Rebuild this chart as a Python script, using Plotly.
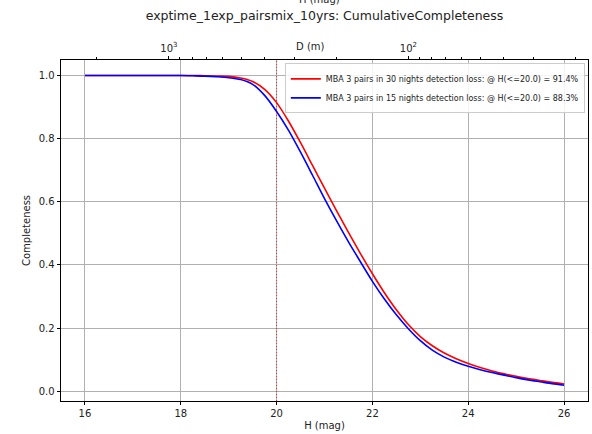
import numpy as np
import plotly.graph_objects as go

# ---- data ----
H_grid = [16.0, 16.5, 17.0, 17.5, 18.0, 18.25, 18.5, 18.75, 19.0, 19.25, 19.5, 19.75,
          20.0, 20.25, 20.5, 20.75, 21.0, 21.25, 21.5, 21.75, 22.0, 22.25, 22.5, 22.75,
          23.0, 23.25, 23.5, 23.75, 24.0, 24.25, 24.5, 24.75, 25.0, 25.25, 25.5, 25.75, 26.0]
comp_30n = [1.0, 1.0, 1.0, 1.0, 1.0, 1.0, 0.999, 0.998, 0.997, 0.992, 0.981, 0.956,
            0.914, 0.855, 0.787, 0.715, 0.643, 0.572, 0.503, 0.436, 0.372, 0.312, 0.258, 0.211,
            0.173, 0.144, 0.121, 0.103, 0.088, 0.075, 0.064, 0.055, 0.047, 0.040, 0.034, 0.028, 0.023]
comp_15n = [1.0, 1.0, 1.0, 1.0, 1.0, 0.999, 0.998, 0.996, 0.993, 0.987, 0.972, 0.937,
            0.886, 0.826, 0.757, 0.684, 0.610, 0.540, 0.473, 0.410, 0.348, 0.292, 0.242, 0.198,
            0.160, 0.130, 0.108, 0.092, 0.079, 0.068, 0.059, 0.051, 0.043, 0.036, 0.030, 0.024, 0.019]
names = ["MBA 3 pairs in 30 nights detection loss: @ H(<=20.0) = 91.4%",
         "MBA 3 pairs in 15 nights detection loss: @ H(<=20.0) = 88.3%"]
colors = ["red", "blue"]
H_mark = 20.0
x_ticks = [16, 18, 20, 22, 24, 26]
y_ticks = [0.0, 0.2, 0.4, 0.6, 0.8, 1.0]
D_major = [1000, 100]
D_major_text = ["10<sup>3</sup>", "10<sup>2</sup>"]
D_minor = [2000, 900, 800, 700, 600, 500, 400, 300, 200, 90, 80, 70, 60, 50, 40, 30, 20]
albedo = 0.14

def H_of_D(d_m):
    return 5.0 * np.log10(1329.0 / np.sqrt(albedo) * 1000.0 / np.asarray(d_m, dtype=float))

FONT = "DejaVu Sans"
xr = [15.5, 26.5]
yr = [-0.031, 1.049]
T, B, L, R = 60, 33, 61, 4
plot_h = 434 - T - B
plot_w = 592 - L - R

fig = go.Figure()
for ys, nm, c in zip([comp_30n, comp_15n], names, colors):
    fig.add_trace(go.Scatter(x=H_grid, y=ys, mode="lines", name=nm,
                             line=dict(color=c, width=1.6, shape="spline", smoothing=0.8)))

# invisible trace to activate the top axis
fig.add_trace(go.Scatter(x=[H_grid[0]], y=[comp_30n[0]], xaxis="x2", mode="markers",
                         marker=dict(opacity=0), showlegend=False, hoverinfo="skip"))

fig.add_shape(type="line", x0=H_mark, x1=H_mark, y0=0, y1=1, yref="paper", xref="x",
              line=dict(color="red", width=1, dash="1px,2px"), opacity=0.75, layer="above")

fig.update_layout(
    width=592, height=434,
    margin=dict(l=L, r=R, t=T, b=B, autoexpand=False),
    paper_bgcolor="white", plot_bgcolor="white",
    font=dict(family=FONT, size=10, color="#222"),
    title=dict(text="exptime_1exp_pairsmix_10yrs: CumulativeCompleteness",
               x=(L + 592 - R) / 2 / 592, xanchor="center", y=1 - 16 / 434, yanchor="middle",
               font=dict(size=12.5, color="#222")),
    xaxis=dict(range=xr, tickvals=x_ticks, ticks="outside", ticklen=3.5, tickwidth=0.8,
               tickcolor="black", showline=True, linecolor="black", linewidth=0.9, mirror=True,
               showgrid=True, gridcolor="#b0b0b0", gridwidth=0.8, zeroline=False,
               automargin=False,
               title=dict(text="H (mag)", standoff=3, font=dict(size=10))),
    xaxis2=dict(range=xr, overlaying="x", side="top", tickvals=list(H_of_D(D_major)),
                ticktext=D_major_text, ticks="outside", ticklen=3.5, tickwidth=0.8,
                tickcolor="black", showgrid=False, zeroline=False, showline=False,
                automargin=False,
                minor=dict(tickvals=list(H_of_D(D_minor)), ticks="outside", ticklen=2,
                           tickwidth=0.6, tickcolor="black", showgrid=False)),
    yaxis=dict(range=yr, tickvals=y_ticks, tickformat=".1f", ticks="outside", ticklen=3.5,
               tickwidth=0.8, tickcolor="black", showline=True, linecolor="black",
               linewidth=0.9, mirror=True, showgrid=True, gridcolor="#b0b0b0",
               gridwidth=0.8, zeroline=False, automargin=False,
               title=dict(text="Completeness", standoff=6, font=dict(size=10))),
    legend=dict(x=0.994, xanchor="right", y=0.99, yanchor="top",
                bgcolor="rgba(255,255,255,0.85)", bordercolor="#cccccc", borderwidth=1,
                font=dict(size=8, color="#222"), itemwidth=30, tracegroupgap=0),
    showlegend=True,
)

fig.add_annotation(text="D (m)", xref="paper", yref="paper", x=(310 - L) / plot_w,
                   y=1 + (T - 46) / plot_h, xanchor="center", yanchor="middle",
                   showarrow=False, font=dict(size=10, color="#222"))
fig.add_annotation(text="H (mag)", xref="paper", yref="paper", x=(319 - L) / plot_w,
                   y=1 + (T - 0) / plot_h, xanchor="center", yanchor="middle",
                   showarrow=False, font=dict(size=10, color="#222"))

fig.write_html("out.html")
